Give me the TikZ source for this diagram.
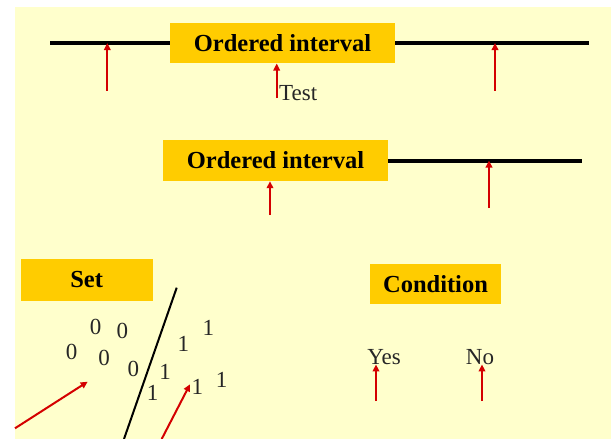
\documentclass[tikz,border=0pt]{standalone}
\usepackage{fontspec}
\setmainfont{Liberation Serif}
\usetikzlibrary{arrows.meta}

\definecolor{paper}{HTML}{FFFFCC}
\definecolor{gold}{HTML}{FFCC00}
\definecolor{arrred}{HTML}{D40000}

\tikzset{
  label box/.style={fill=gold,inner sep=0pt,font=\fontsize{24.5}{29}\selectfont\bfseries},
  bit/.style={inner sep=0pt,font=\fontsize{23}{27}\selectfont,text=black!85},
  pointer/.style={arrred,line width=2pt,-{Triangle[length=7pt,width=6.5pt]}},
  axis/.style={line width=4pt}
}

\begin{document}
\begin{tikzpicture}[x=1pt,y=-1pt]
\useasboundingbox (0,0) rectangle (611,439);
\fill[paper] (15,7) rectangle (611,439);

% first interval
\node [label box,minimum width=225pt,minimum height=40.6pt] (oi1) at(282.5,43){Ordered interval};
\coordinate (a1) at(50,43);
\coordinate (b1) at(589,43);
\draw[axis](a1) -- (oi1.west);
\draw[axis](oi1.east) -- (b1);
\node [bit,anchor=base west] (tst) at(279,100.7){Test};
\coordinate (p1) at(107.3,90.7);
\coordinate (p2) at(276.7,98);
\coordinate (p3) at(495,90.7);
\draw[pointer](p1) -- (p1 |- a1);
\draw[pointer](p2) -- (p2 |- oi1.south);
\draw[pointer](p3) -- (p3 |- b1);

% second interval
\node [label box,minimum width=225pt,minimum height=41pt] (oi2) at(275.5,160.5){Ordered interval};
\coordinate (b2) at(582,160.5);
\draw[axis](oi2.east) -- (b2);
\coordinate (q1) at(270,215);
\coordinate (q2) at(489,208);
\draw[pointer](q1) -- (q1 |- oi2.south);
\draw[pointer](q2) -- (q2 |- b2);

% set
\node [label box,minimum width=132pt,minimum height=42pt] (set) at(86.7,280){Set};
\coordinate (s1) at(176.7,287.7);
\coordinate (s2) at(124,439);
\draw[line width=2pt](s1) -- (s2);
\node [bit] (z1) at(95.7,327.3){0};
\node [bit] (z2) at(122.3,330.7){0};
\node [bit] (z3) at(71.7,351.7){0};
\node [bit] (z4) at(104,358.3){0};
\node [bit] (z5) at(133.3,369.3){0};
\node [bit] (o1) at(208.3,328.3){1};
\node [bit] (o2) at(183.3,344){1};
\node [bit] (o3) at(165,371.7){1};
\node [bit] (o4) at(152.7,392.7){1};
\node [bit] (o5) at(197.3,386.7){1};
\node [bit] (o6) at(221.7,380){1};
\coordinate (r1) at(15,428.3);
\coordinate (r2) at(87.7,381.7);
\coordinate (r3) at(161.7,439);
\coordinate (r4) at(190,384.3);
\draw[pointer](r1) -- (r2);
\draw[pointer](r3) -- (r4);

% condition
\node [label box,minimum width=131pt,minimum height=40pt] (cond) at(435.5,284){Condition};
\node [bit,anchor=base] (yes) at(384,364){Yes};
\node [bit,anchor=base] (no) at(480,364){No};
\coordinate (y1) at(376,401);
\coordinate (n1) at(482,401);
\draw[pointer](y1) -- (y1 |- yes.south);
\draw[pointer](n1) -- (n1 |- no.south);
\end{tikzpicture}
\end{document}
